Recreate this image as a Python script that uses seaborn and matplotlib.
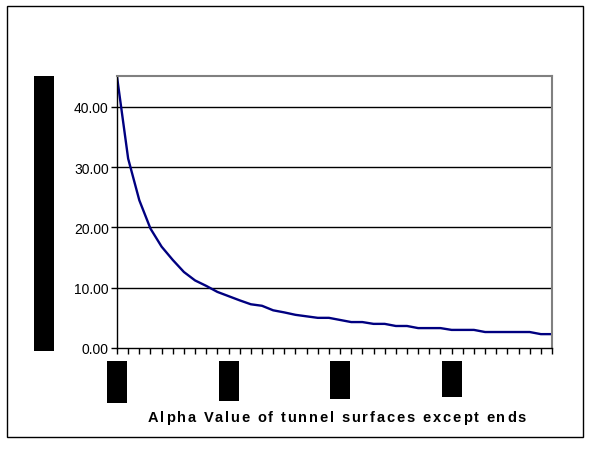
import matplotlib
matplotlib.use("Agg")
import matplotlib.pyplot as plt
import matplotlib.transforms as mtransforms
import seaborn as sns
import pandas as pd
from matplotlib.patches import Rectangle

sns.set_style("white")
plt.rcParams['font.family'] = ['Liberation Sans', 'DejaVu Sans']
plt.rcParams['text.color'] = 'black'
plt.rcParams['xtick.color'] = 'black'
plt.rcParams['ytick.color'] = 'black'

# Data
categories = list(range(1, 41))
values = [45.0, 31.4, 24.5, 19.8, 16.8, 14.6, 12.6, 11.2, 10.3, 9.3,
          8.6, 7.9, 7.25, 7.0, 6.25, 5.9, 5.5, 5.25, 5.0, 5.0,
          4.65, 4.3, 4.3, 4.0, 4.0, 3.65, 3.65, 3.3, 3.3, 3.3,
          3.0, 3.0, 3.0, 2.65, 2.65, 2.65, 2.65, 2.65, 2.3, 2.3]
tick_cats = [1, 11, 21, 31]
tick_labels = ["1", "11", "21", "31"]
y_ticks = [0, 10, 20, 30, 40]
x_title = "Alpha Value of tunnel surfaces except ends"
y_title = "Alpha"

df = pd.DataFrame({"cat": categories, "val": values})

W, H = 591, 456
fig = plt.figure(figsize=(W / 100, H / 100), dpi=100)
ax = fig.add_axes([117 / W, 1 - 349 / H, (552 - 117) / W, (349 - 77) / H])

sns.lineplot(data=df, x="cat", y="val", ax=ax, color="#000080", linewidth=1.7)

ax.set_xlim(1, 40)
ax.set_ylim(0, 45.1)
ax.set_yticks(y_ticks)
ax.set_yticklabels([f"{v:.2f}" for v in y_ticks], fontsize=10)
ax.set_xticks(categories, minor=True)
ax.set_xticks(tick_cats)
ax.set_xticklabels(tick_labels, rotation=90, fontsize=9, color="black",
                   va="top", ha="center")
ax.tick_params(axis="x", which="both", direction="out", length=4, width=1,
               color="black", bottom=True, pad=16)
ax.tick_params(axis="y", direction="out", length=4, width=1, color="black",
               left=True, pad=2)
for yv in y_ticks[1:]:
    ax.axhline(yv, color="black", linewidth=1, zorder=0)
ax.set_xlabel("")
ax.set_ylabel("")
for s in ["top", "right"]:
    ax.spines[s].set_color("#808080")
    ax.spines[s].set_linewidth(1.5)
for s in ["left", "bottom"]:
    ax.spines[s].set_color("black")
    ax.spines[s].set_linewidth(1)

# x tick labels rendered as filled black blocks (heights as in the reference)
box_heights = [42, 40, 38, 36]
blend = mtransforms.blended_transform_factory(ax.transData, fig.transFigure)
for c, h in zip(tick_cats, box_heights):
    fig.patches.append(Rectangle((c - 0.9, 1 - (362 + h) / H), 1.8, h / H,
                                 transform=blend, facecolor="black",
                                 edgecolor="none", zorder=1))

# x-axis title with wide letter spacing (placed character by character)
renderer = fig.canvas.get_renderer()
fs = 10.5
def text_w(s):
    t = fig.text(0, 0, s, fontsize=fs, fontweight="bold")
    w = t.get_window_extent(renderer).width
    t.remove()
    return w
natural = text_w(x_title)
target_w = 378.0
extra = (target_w - natural) / (len(x_title) - 1)
x0 = 148.0
y_px = 418
for i, ch in enumerate(x_title):
    if ch == " ":
        continue
    left = text_w(x_title[:i + 1]) - text_w(ch) + extra * i
    fig.text((x0 + left) / W, 1 - y_px / H, ch, ha="left", va="center",
             fontsize=fs, fontweight="bold")

# y-axis title box (rendered as a filled black block)
fig.patches.append(Rectangle((34 / W, 1 - 352 / H), 20 / W, (352 - 77) / H,
                             transform=fig.transFigure, facecolor="black",
                             edgecolor="none", zorder=1))
fig.text(44 / W, 1 - 214 / H, y_title, rotation=90, ha="center", va="center",
         fontsize=10, color="black", zorder=2)

# figure border
fig.patches.append(Rectangle((7 / W, 1 - 438 / H), (583 - 7) / W, (438 - 7) / H,
                             transform=fig.transFigure, facecolor="none",
                             edgecolor="black", linewidth=1))

fig.savefig("out.png", dpi=100)
